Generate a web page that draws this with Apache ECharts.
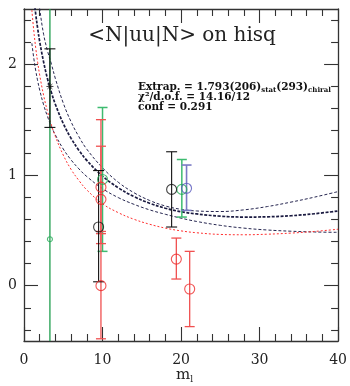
<!DOCTYPE html>
<html><head><meta charset="utf-8">
<script src="https://cdn.jsdelivr.net/npm/echarts@6/dist/echarts.min.js"></script>
<style>html,body{margin:0;padding:0;background:#fff}#c{width:350px;height:386px}</style>
</head><body><div id="c"></div>
<script>
// ---- data ----
const curveM      = [1, 1.25, 1.5, 1.75, 2, 2.5, 3, 3.5, 4, 5, 6, 7, 8, 10, 12, 14, 16, 18, 20, 22, 25, 28, 31, 34, 37, 40];
const fitUpper    = [3.23, 2.99, 2.80, 2.64, 2.50, 2.27, 2.12, 2.00, 1.87, 1.65, 1.48, 1.345, 1.233, 1.065, 0.935, 0.84, 0.77, 0.72, 0.69, 0.675, 0.67, 0.685, 0.715, 0.755, 0.80, 0.85];
const fitCentral  = [2.80, 2.61, 2.45, 2.32, 2.205, 2.02, 1.867, 1.743, 1.637, 1.465, 1.331, 1.222, 1.132, 0.99, 0.885, 0.805, 0.745, 0.70, 0.668, 0.648, 0.628, 0.62, 0.622, 0.632, 0.65, 0.675];
const fitLower    = [2.19, 2.053, 1.941, 1.848, 1.767, 1.634, 1.527, 1.437, 1.361, 1.235, 1.136, 1.055, 0.986, 0.877, 0.796, 0.735, 0.685, 0.645, 0.61, 0.58, 0.545, 0.52, 0.503, 0.492, 0.485, 0.482];
const fitRed      = [2.49, 2.30, 2.144, 2.014, 1.902, 1.719, 1.572, 1.45, 1.347, 1.18, 1.05, 0.95, 0.865, 0.74, 0.66, 0.60, 0.555, 0.52, 0.495, 0.478, 0.463, 0.46, 0.465, 0.475, 0.49, 0.51];

const extrapX = [3.3];  const extrapY = [1.80]; const extrapLo = [1.43]; const extrapHi = [2.14];
const blackX = [9.5, 18.8];  const blackY = [0.53, 0.87]; const blackLo = [0.035, 0.53]; const blackHi = [1.04, 1.21];
const greenX = [3.3, 10.0, 20.1]; const greenY = [0.42, 0.96, 0.87]; const greenLo = [-0.7, 0.31, 0.62]; const greenHi = [2.7, 1.61, 1.14];
const blueX = [20.7]; const blueY = [0.88]; const blueLo = [0.68]; const blueHi = [1.09];
const redX = [9.8, 9.8, 9.8, 19.4, 21.1]; const redY = [0.89, 0.78, 0.0, 0.24, -0.03];
const redLo = [0.47, 0.38, -0.48, 0.06, -0.37]; const redHi = [1.50, 1.26, 0.49, 0.43, 0.31];

const xTicks = [0, 10, 20, 30, 40];
const yMajor = [0, 1, 2];
const yMinor = [-0.4, -0.2, 0.2, 0.4, 0.6, 0.8, 1.2, 1.4, 1.6, 1.8, 2.2, 2.4];

const titleText = '<N|uu|N> on hisq';

// ---- chart ----
const serif = 'DejaVu Serif';
const axisCol = '#333';
const chart = echarts.init(document.getElementById('c'), null, {renderer: 'canvas'});

function pts(xs, ys) { return xs.map((x, i) => [x, ys[i]]); }
function errData(xs, ys, lo, hi) { return xs.map((x, i) => [x, ys[i], lo[i], hi[i]]); }
function errSeries(data, color, capW, lw, z) {
  return {
    type: 'custom', data: data, clip: true, z: z || 3, silent: true,
    encode: {x: 0, y: 1},
    renderItem: function (params, api) {
      const x = api.value(0), lo = api.value(2), hi = api.value(3);
      const a = api.coord([x, lo]), b = api.coord([x, hi]);
      const st = {stroke: color, lineWidth: lw, fill: null};
      return {type: 'group', children: [
        {type: 'line', shape: {x1: a[0], y1: a[1], x2: b[0], y2: b[1]}, style: st},
        {type: 'line', shape: {x1: a[0] - capW / 2, y1: a[1], x2: a[0] + capW / 2, y2: a[1]}, style: st},
        {type: 'line', shape: {x1: b[0] - capW / 2, y1: b[1], x2: b[0] + capW / 2, y2: b[1]}, style: st}
      ]};
    }
  };
}
function markSeries(data, color, size, z) {
  return {type: 'scatter', data: data, symbol: 'circle', symbolSize: size, z: z || 5, silent: true,
    itemStyle: {color: 'rgba(255,255,255,0)', borderColor: color, borderWidth: 1.1}};
}
function curve(vals, color, width, dash) {
  return {type: 'line', data: pts(curveM, vals), showSymbol: false, smooth: 0.4, clip: true, silent: true, z: 2,
    lineStyle: {color: color, width: width, type: dash}};
}

const xAxisBase = {type: 'value', min: 0, max: 40, interval: 10,
  axisLine: {show: true, onZero: false, lineStyle: {color: axisCol, width: 1.3}},
  axisTick: {show: true, inside: true, length: 14, lineStyle: {color: axisCol, width: 1.1}},
  minorTick: {show: true, splitNumber: 5, length: 7, lineStyle: {color: axisCol, width: 1.1}},
  splitLine: {show: false}, minorSplitLine: {show: false}};

function yAx(pos, ticks, len, labels, line) {
  return {type: 'value', min: -0.5, max: 2.5, position: pos,
    axisLine: {show: line, onZero: false, lineStyle: {color: axisCol, width: 1.3}},
    axisTick: {show: true, inside: true, length: len, customValues: ticks, lineStyle: {color: axisCol, width: 1.1}},
    axisLabel: labels ? {show: true, customValues: yMajor, fontFamily: serif, fontSize: 14, color: '#222', margin: 7} : {show: false},
    splitLine: {show: false}};
}

const option = {
  animation: false,
  backgroundColor: '#fff',
  grid: {left: 24, right: 10, top: 9, bottom: 45, containLabel: false},
  xAxis: [
    Object.assign({}, xAxisBase, {position: 'bottom',
      axisLabel: {show: true, fontFamily: serif, fontSize: 14, color: '#222', margin: 12,
        customValues: xTicks}}),
    Object.assign({}, xAxisBase, {position: 'top', axisLabel: {show: false}})
  ],
  yAxis: [
    yAx('left', yMajor, 14, true, true),
    yAx('left', yMinor, 7, false, false),
    yAx('right', yMajor, 14, false, true),
    yAx('right', yMinor, 7, false, false)
  ],
  series: [
    curve(fitUpper, '#262650', 1, [3, 2]),
    curve(fitLower, '#262650', 1, [3, 2]),
    curve(fitCentral, '#1a1a40', 1.7, [3, 1.5]),
    curve(fitRed, '#ff3030', 1, [2, 2]),
    errSeries(errData(greenX.slice(0, 1), greenY.slice(0, 1), greenLo.slice(0, 1), greenHi.slice(0, 1)), '#1f9e4e', 10, 1.3),
    errSeries(errData(greenX.slice(1), greenY.slice(1), greenLo.slice(1), greenHi.slice(1)), '#3dbb70', 10, 1.5),
    errSeries(errData(blueX, blueY, blueLo, blueHi), '#7a7ac4', 10, 1.6),
    errSeries(errData(redX, redY, redLo, redHi), '#f05050', 10, 1.3),
    errSeries(errData(blackX, blackY, blackLo, blackHi), '#111', 11, 1.1),
    errSeries(errData(extrapX, extrapY, extrapLo, extrapHi), '#111', 11, 1.1),
    markSeries(pts(greenX, greenY).slice(1), '#22aa55', 10),
    markSeries(pts(greenX, greenY).slice(0, 1), '#22aa55', 5),
    markSeries(pts(blueX, blueY), '#5555bb', 10),
    markSeries(pts(redX, redY), '#ee2a2a', 10),
    markSeries(pts(blackX, blackY), '#111', 10),
    {type: 'scatter', data: pts(extrapX, extrapY), symbol: 'path://M5,0L5,10M0,5L10,5M1.5,1.5L8.5,8.5M8.5,1.5L1.5,8.5',
      symbolSize: 7, z: 6, silent: true, itemStyle: {color: 'rgba(0,0,0,0)', borderColor: '#111', borderWidth: 1}}
  ],
  graphic: [
    {type: 'text', x: 182, y: 36, style: {text: titleText, fontFamily: serif, fontSize: 20, fill: '#222', align: 'center', verticalAlign: 'middle'}},
    {type: 'text', x: 138, y: 81, style: {text: '{m|Extrap. = 1.793(206)}{s|stat}{m|(293)}{s|chiral}',
      rich: {m: {fontFamily: serif, fontSize: 10.5, fontWeight: 'bold', fill: '#111', lineHeight: 13, verticalAlign: 'middle'},
             s: {fontFamily: serif, fontSize: 7, fontWeight: 'bold', fill: '#111', lineHeight: 13, verticalAlign: 'bottom'}}}},
    {type: 'text', x: 138, y: 92, style: {text: 'χ²/d.o.f. = 14.16/12', fontFamily: serif, fontSize: 10.5, fontWeight: 'bold', fill: '#111'}},
    {type: 'text', x: 138, y: 102, style: {text: 'conf = 0.291', fontFamily: serif, fontSize: 10.5, fontWeight: 'bold', fill: '#111'}},
    {type: 'text', x: 176, y: 366, style: {text: '{m|m}{s|l}',
      rich: {m: {fontFamily: serif, fontSize: 15, fill: '#222', lineHeight: 18, verticalAlign: 'middle'},
             s: {fontFamily: serif, fontSize: 9, fill: '#222', lineHeight: 18, verticalAlign: 'bottom'}}}}
  ]
};
chart.setOption(option);
</script>
</body></html>
